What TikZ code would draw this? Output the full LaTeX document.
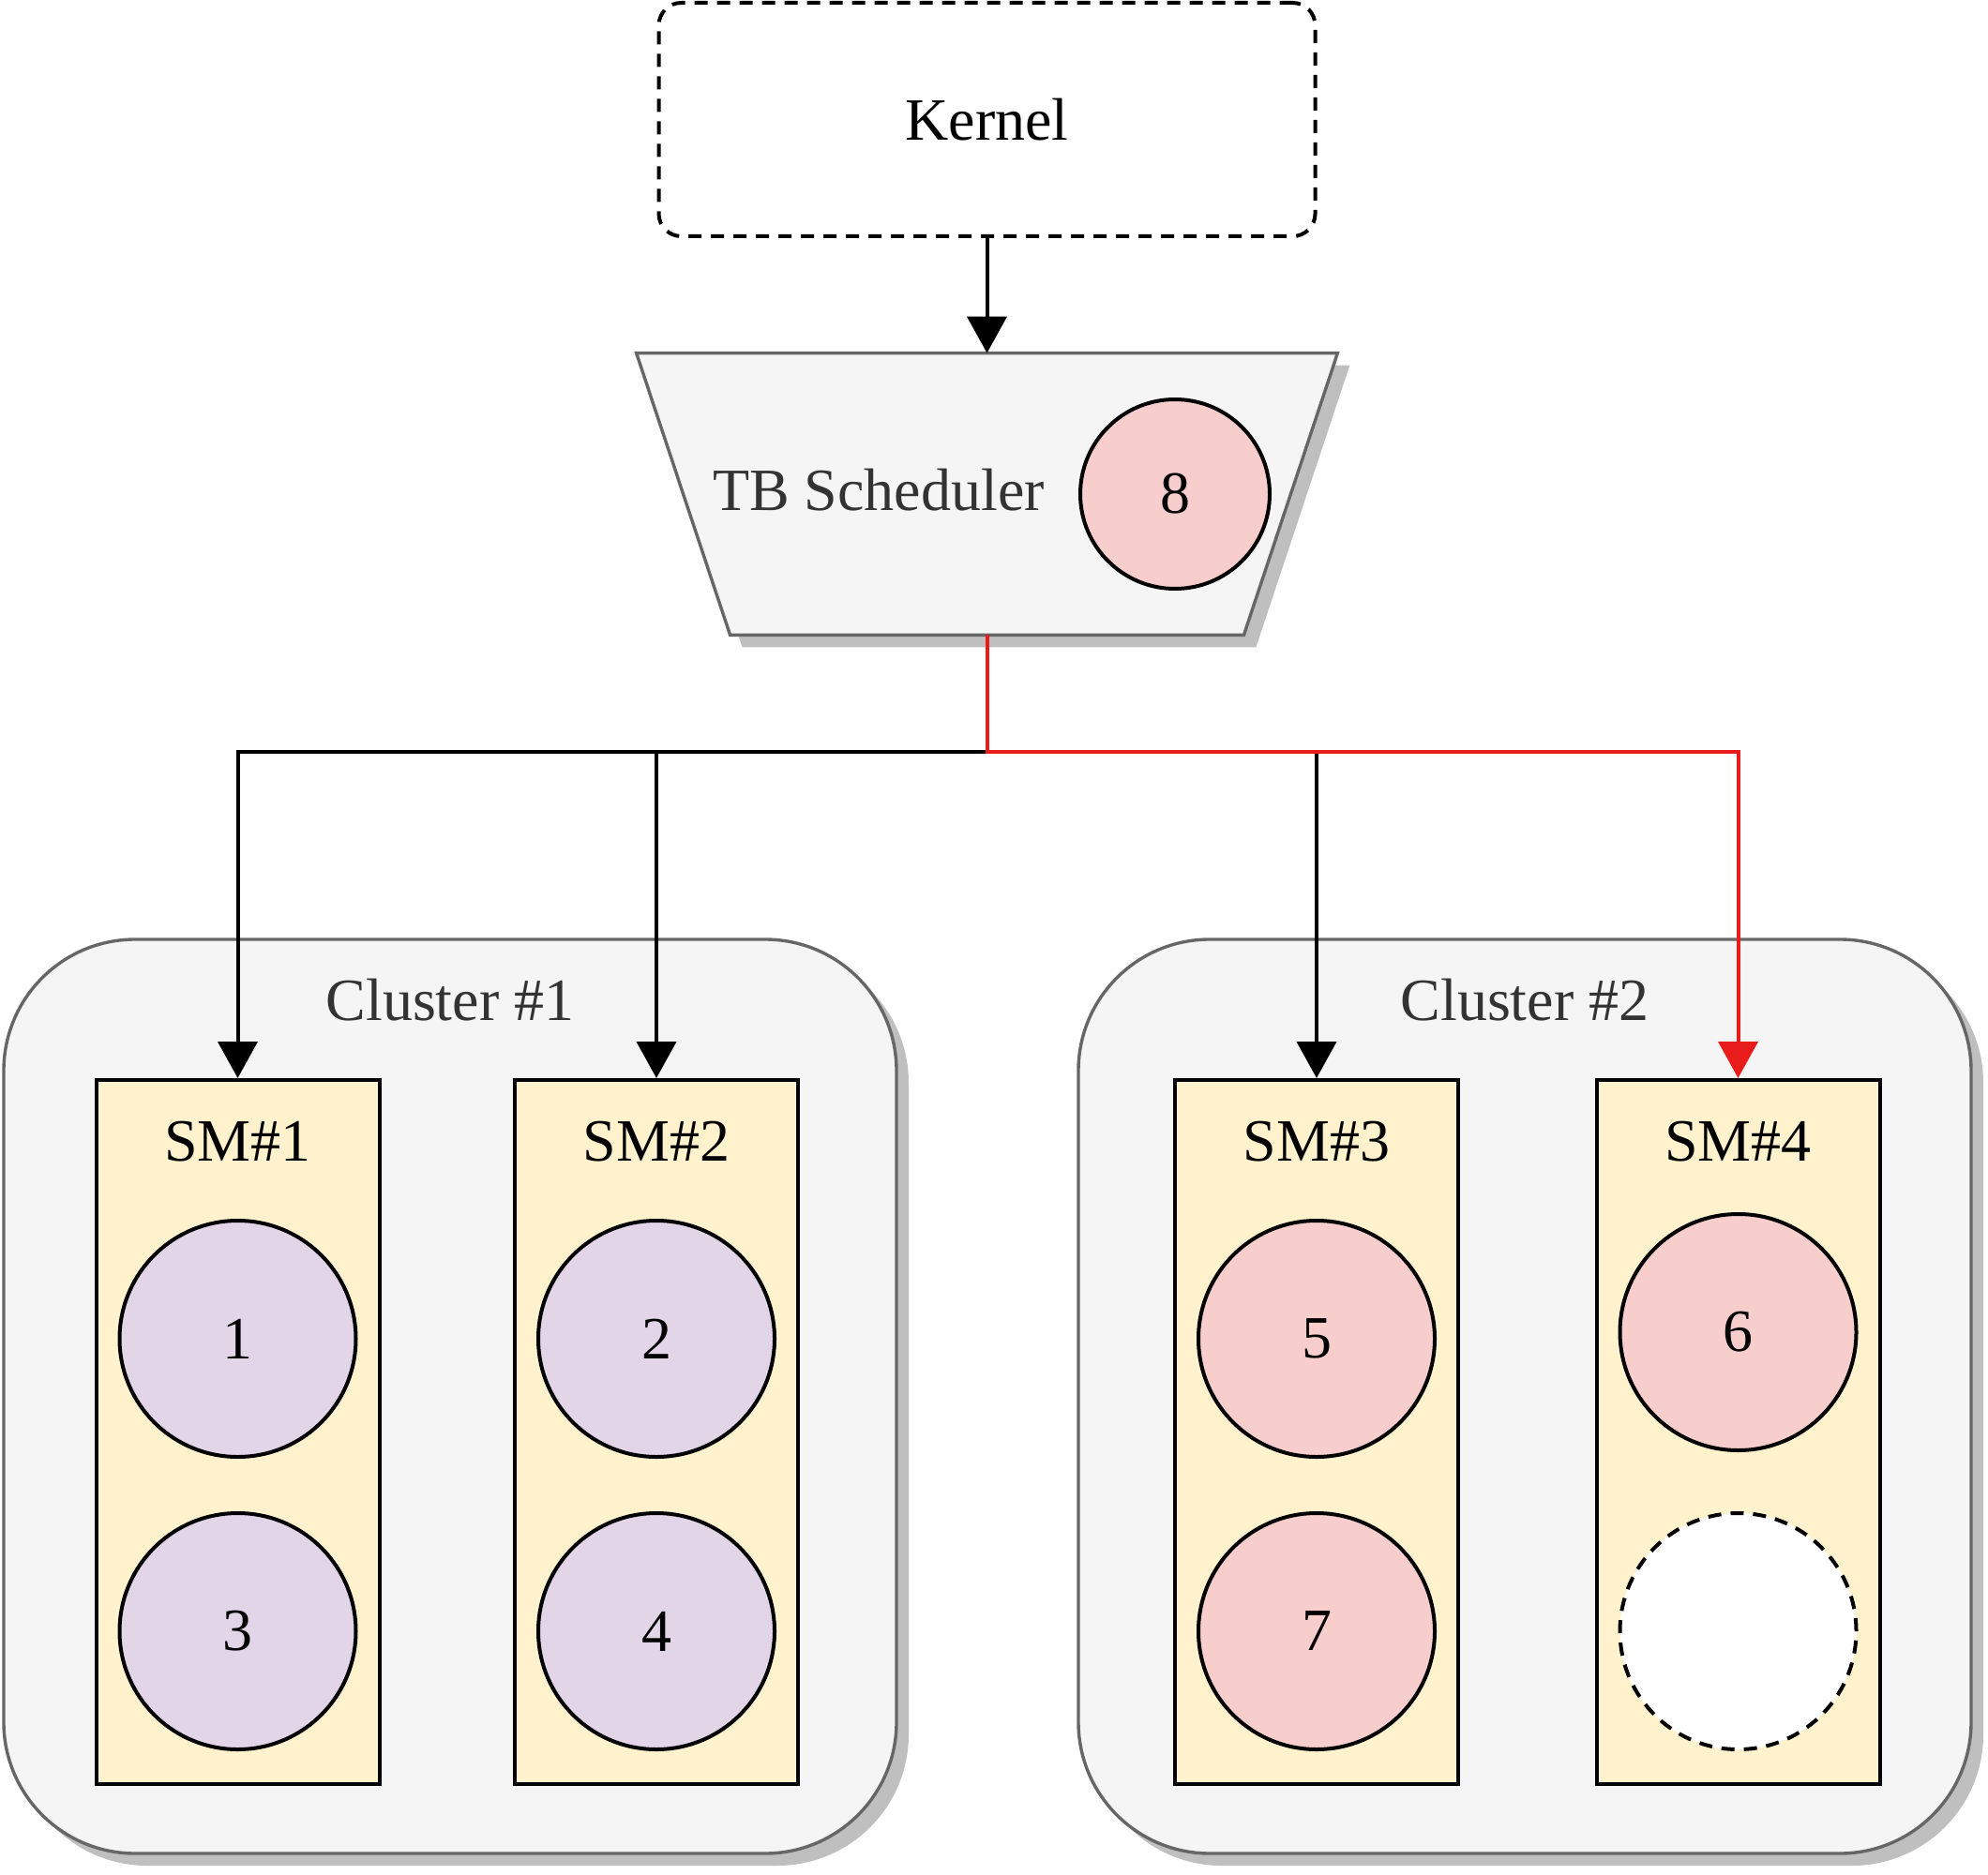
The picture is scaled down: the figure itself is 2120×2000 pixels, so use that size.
\documentclass[tikz,border=0pt]{standalone}
\usepackage{fontspec}
\setmainfont{Liberation Serif}
\usetikzlibrary{arrows.meta,shadows,calc}
\definecolor{clfill}{HTML}{F5F5F5}
\definecolor{clline}{HTML}{666666}
\definecolor{smfill}{HTML}{FFF2CC}
\definecolor{purp}{HTML}{E1D5E7}
\definecolor{pink}{HTML}{F8CECC}
\definecolor{txtgray}{HTML}{333333}
\definecolor{redline}{HTML}{E91C1C}
\tikzset{
  shad/.style={drop shadow={shadow xshift=6.5pt,shadow yshift=-6.5pt,fill=black!25,opacity=1}},
  cluster/.style={draw=clline,fill=clfill,line width=1.7pt,rounded corners=70pt,
    minimum width=476pt,minimum height=487.5pt,inner sep=0pt,shad},
  smbox/.style={draw=black,fill=smfill,line width=2pt,minimum width=151pt,
    minimum height=375.5pt,inner sep=0pt},
  tb/.style={circle,draw=black,line width=2pt,minimum size=126pt,inner sep=0pt},
  lbl/.style={anchor=base,inner sep=0pt},
  conn/.style={line width=2pt,-{Triangle[width=21pt,length=19.5pt]}},
  dsh/.style={dash pattern=on 7pt off 5pt},
}
\begin{document}
\begin{tikzpicture}[x=0.5pt,y=-0.5pt,font=\fontsize{32}{38}\selectfont]
\useasboundingbox (0,0) rectangle (2120,2000);

% Kernel
\node[draw=black,dsh,line width=2pt,rounded corners=12pt,
  minimum width=350pt,minimum height=124.5pt,inner sep=0pt] (kernel) at (1052.5,127.5) {Kernel};

% TB Scheduler (trapezoid)
\node[minimum width=273.5pt,minimum height=150pt,inner sep=0pt] (sched) at (1052.5,527) {};
\draw[draw=clline,fill=clfill,line width=1.7pt,shad]
  ([xshift=-50pt]sched.north west) -- ([xshift=50pt]sched.north east)
  -- (sched.south east) -- (sched.south west) -- cycle;
\node[lbl,text=txtgray] (schedtxt) at (937,545) {TB Scheduler};
\node[tb,fill=pink,minimum size=101pt] (c8) at (1253,527) {8};

% Clusters
\node[cluster] (cl1) at (480,1489.5) {};
\node[cluster] (cl2) at (1626,1489.5) {};
\node[lbl,text=txtgray] (cl1txt) at ([yshift=-44pt]cl1.north) {Cluster \#1};
\node[lbl,text=txtgray] (cl2txt) at ([yshift=-44pt]cl2.north) {Cluster \#2};

% SMs
\node[smbox] (sm1) at (253.5,1527.5) {};
\node[smbox] (sm2) at (700,1527.5) {};
\node[smbox] (sm3) at (1404,1527.5) {};
\node[smbox] (sm4) at (1853.5,1527.5) {};
\foreach \i in {1,2,3,4}{
  \node[lbl] (sm\i txt) at ([yshift=-44pt]sm\i.north) {SM\#\i};
}

% Thread blocks
\node[tb,fill=purp] (c1) at (253.5,1428) {1};
\node[tb,fill=purp] (c3) at (253.5,1740) {3};
\node[tb,fill=purp] (c2) at (700,1428) {2};
\node[tb,fill=purp] (c4) at (700,1740) {4};
\node[tb,fill=pink] (c5) at (1404,1428) {5};
\node[tb,fill=pink] (c7) at (1404,1740) {7};
\node[tb,fill=pink] (c6) at (1853.5,1421) {6};
\node[tb,fill=white,dsh] (cfree) at (1853.5,1740) {};

% Connectors
\coordinate (split) at (1052.5,802);
\draw[conn] (kernel.south) -- (sched.north);
\draw[conn] (sched.south) -- (split) -| (sm1.north);
\draw[conn] (sched.south) -- (split) -| (sm2.north);
\draw[conn] (sched.south) -- (split) -| (sm3.north);
\draw[conn,draw=redline] (sched.south) -- (split) -| (sm4.north);
\end{tikzpicture}
\end{document}
